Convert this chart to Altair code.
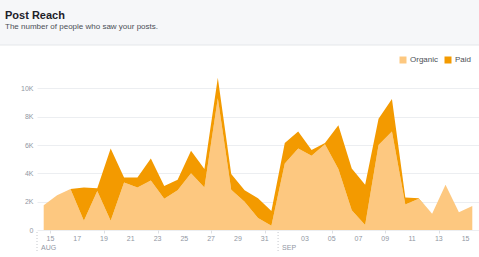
import altair as alt
import pandas as pd

# Daily post reach, 14 Aug - 15 Sep
dates = pd.date_range("2014-08-14", "2014-09-15", freq="D").strftime("%Y-%m-%d").tolist()
organic = [1750, 2450, 2900, 650, 2750, 650, 3350, 3000, 3500, 2200, 2800, 4000, 3000,
           9300, 2850, 2000, 850, 300, 4700, 5750, 5250, 6050, 4300, 1400, 350, 6000,
           6950, 1800, 2200, 1150, 3200, 1250, 1700]
paid = [0, 0, 0, 2350, 200, 5100, 350, 700, 1550, 900, 750, 1600, 1300,
        1450, 1100, 800, 1400, 1050, 1450, 1200, 400, 100, 3100, 2950, 2850, 1850,
        2300, 500, 50, 0, 0, 0, 0]
series = ["Organic", "Paid"]
colors = ["#fdc880", "#f39a00"]

months = ["AUG", "SEP"]
month_starts = ["2014-08-14", "2014-09-01"]

y_ticks = [0, 2000, 4000, 6000, 8000, 10000]
# day labels every other day (odd dates), restarting after the month change
x_tick_dates = ["2014-08-15", "2014-08-17", "2014-08-19", "2014-08-21", "2014-08-23",
                "2014-08-25", "2014-08-27", "2014-08-29", "2014-08-31", "2014-09-03",
                "2014-09-05", "2014-09-07", "2014-09-09", "2014-09-11", "2014-09-13",
                "2014-09-15"]

origin = pd.Timestamp(dates[0])


def day_offset(d):
    return (pd.Timestamp(d) - origin).days


# points sit in the middle of each day
df = pd.DataFrame({"date": dates, "Organic": organic, "Paid": paid})
df["t"] = [day_offset(d) + 0.5 for d in dates]
long = df.melt(id_vars=["date", "t"], value_vars=series, var_name="type", value_name="reach")
long["order"] = long["type"].map({s: i for i, s in enumerate(series)})

ticks_df = pd.DataFrame({
    "t": [day_offset(d) for d in x_tick_dates],
    "label": [pd.Timestamp(d).strftime("%d") for d in x_tick_dates],
})
months_df = pd.DataFrame({"month": months, "t": [day_offset(d) for d in month_starts]})

FONT = "Liberation Sans"
GREY = "#9197a3"
W, H = 442, 170

x_scale = alt.Scale(domain=[0, 33], nice=False, zero=False)

area = alt.Chart(long).mark_area(interpolate="linear").encode(
    x=alt.X("t:Q", scale=x_scale,
            axis=alt.Axis(values=ticks_df["t"].tolist(), labels=False, grid=False,
                          domain=False, tickSize=3, tickColor="#dddfe2", title=None)),
    y=alt.Y("reach:Q", stack="zero",
            scale=alt.Scale(domain=[0, 12000], nice=False),
            axis=alt.Axis(values=y_ticks,
                          labelExpr="datum.value == 0 ? '0' : (datum.value / 1000) + 'K'",
                          grid=True, gridColor="#eceef1", domain=False, ticks=False,
                          labelPadding=4, labelFontSize=7, labelColor=GREY,
                          labelFont=FONT, title=None)),
    color=alt.Color("type:N", scale=alt.Scale(domain=series, range=colors),
                    legend=alt.Legend(orient="none", legendX=362, legendY=-4,
                                      direction="horizontal", title=None,
                                      symbolType="square", symbolSize=49,
                                      symbolStrokeWidth=0, labelFontSize=8,
                                      labelFont=FONT, labelColor="#4b4f56",
                                      labelOffset=3, columnPadding=5, padding=0)),
    order=alt.Order("order:Q"),
)

day_labels = alt.Chart(ticks_df).mark_text(
    align="center", baseline="top", fontSize=7, font=FONT, color=GREY
).encode(
    x=alt.X("t:Q", scale=x_scale),
    y=alt.value(175),
    text="label:N",
)

month_rule = alt.Chart(months_df).mark_rule(
    color="#c4c7cc", strokeDash=[1, 2], strokeWidth=1
).encode(
    x=alt.X("t:Q", scale=x_scale),
    y=alt.value(172),
    y2=alt.value(191),
)

month_text = alt.Chart(months_df).mark_text(
    align="left", baseline="middle", dx=4, fontSize=7, font=FONT, color=GREY
).encode(
    x=alt.X("t:Q", scale=x_scale),
    y=alt.value(188),
    text="month:N",
)

one = alt.Data(values=[{"a": 1}])

header_bg = alt.Chart(one).mark_rect(color="#f6f7f9").encode(
    x=alt.value(-37), x2=alt.value(W), y=alt.value(-60), y2=alt.value(-15)
)
header_rule = alt.Chart(one).mark_rule(color="#e5e7ea").encode(
    x=alt.value(-37), x2=alt.value(W), y=alt.value(-15)
)
title = alt.Chart(one).mark_text(
    align="left", baseline="alphabetic", fontSize=11, font=FONT,
    color="#1d2129", fontWeight="bold"
).encode(x=alt.value(-32), y=alt.value(-41), text=alt.value("Post Reach"))
subtitle = alt.Chart(one).mark_text(
    align="left", baseline="alphabetic", fontSize=8, font=FONT, color="#4b4f56"
).encode(x=alt.value(-32), y=alt.value(-31),
         text=alt.value("The number of people who saw your posts."))

chart = alt.layer(
    header_bg, header_rule, title, subtitle, area, day_labels, month_rule, month_text
).properties(
    width=W, height=H,
    autosize=alt.AutoSizeParams(type="none"),
    padding={"left": 37, "top": 60, "right": 0, "bottom": 27},
    background="white",
).configure_view(stroke=None)

chart.save("out.html", embed_options={"renderer": "svg", "actions": False})
